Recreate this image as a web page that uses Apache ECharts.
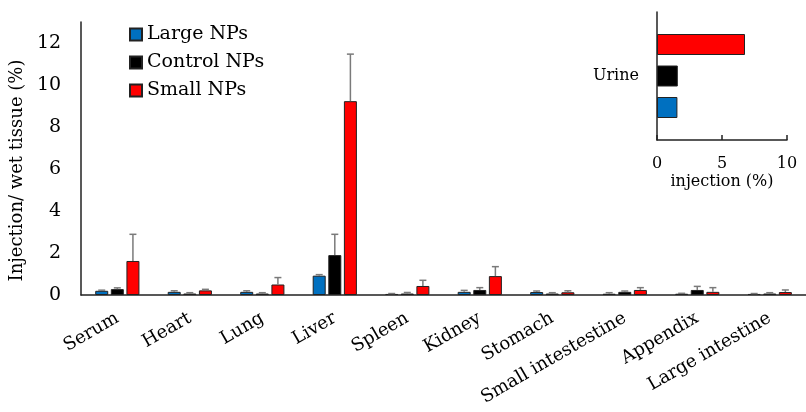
<!DOCTYPE html>
<html>
<head>
<meta charset="utf-8">
<script src="https://cdn.jsdelivr.net/npm/echarts@6/dist/echarts.min.js"></script>
<style>html,body{margin:0;padding:0;background:#fff}#c{width:806px;height:412px}</style>
</head>
<body>
<div id="c"></div>
<script>
var categories = ['Serum','Heart','Lung','Liver','Spleen','Kidney','Stomach','Small intestestine','Appendix','Large intestine'];
var seriesNames = ['Large NPs','Control NPs','Small NPs'];
var largeNPs   = [0.20, 0.15, 0.15, 0.92, 0.05, 0.15, 0.14, 0.06, 0.06, 0.05];
var controlNPs = [0.28, 0.07, 0.07, 1.90, 0.07, 0.24, 0.07, 0.15, 0.24, 0.07];
var smallNPs   = [1.62, 0.22, 0.50, 9.23, 0.43, 0.90, 0.13, 0.24, 0.15, 0.14];
var largeErr   = [0.03, 0.05, 0.05, 0.05, 0.02, 0.07, 0.05, 0.05, 0.02, 0.02];
var controlErr = [0.06, 0.04, 0.04, 0.99, 0.05, 0.11, 0.04, 0.04, 0.17, 0.04];
var smallErr   = [1.27, 0.05, 0.33, 2.24, 0.27, 0.45, 0.07, 0.11, 0.20, 0.10];
var yTicks = [0, 2, 4, 6, 8, 10, 12];
var urineCategory = ['Urine'];
var urineLarge = [1.57];
var urineControl = [1.60];
var urineSmall = [6.77];
var insetTicks = [0, 5, 10];

var colors = ['#0070C0', '#000000', '#FF0000'];
var font = 'DejaVu Serif';
var BW = 13, GAP = 2.6;

function errSeries(i, vals, errs) {
  var data = vals.map(function (v, k) { return [k, v, errs[k]]; });
  return {
    type: 'custom', xAxisIndex: 0, yAxisIndex: 0, z: 5, silent: true,
    data: data,
    renderItem: function (params, api) {
      var k = api.value(0), v = api.value(1), e = api.value(2);
      var p0 = api.coord([k, v]);
      var p1 = api.coord([k, v + e]);
      var x = p0[0] + (i - 1) * (BW + GAP);
      var st = { stroke: '#7a7a7a', lineWidth: 1.5 };
      return { type: 'group', children: [
        { type: 'line', shape: { x1: x, y1: p0[1], x2: x, y2: p1[1] }, style: st },
        { type: 'line', shape: { x1: x - 3.5, y1: p1[1], x2: x + 3.5, y2: p1[1] }, style: st }
      ]};
    }
  };
}

var mainVals = [largeNPs, controlNPs, smallNPs];
var mainErrs = [largeErr, controlErr, smallErr];
var insetVals = [urineLarge, urineControl, urineSmall];

var series = [];
for (var i = 0; i < 3; i++) {
  series.push({
    name: seriesNames[i], type: 'bar', xAxisIndex: 0, yAxisIndex: 0,
    data: mainVals[i], barWidth: BW, barGap: '20%',
    itemStyle: { color: colors[i], borderColor: '#222', borderWidth: 1 }
  });
}
for (var i = 0; i < 3; i++) series.push(errSeries(i, mainVals[i], mainErrs[i]));
// inset: first series is drawn on top, so go from Small to Large
for (var i = 2; i >= 0; i--) {
  series.push({
    name: 'inset' + i, type: 'bar', xAxisIndex: 1, yAxisIndex: 1,
    data: insetVals[i], barWidth: 21, barGap: '50%',
    itemStyle: { color: colors[i], borderColor: '#222', borderWidth: 1 }
  });
}

var chart = echarts.init(document.getElementById('c'));
chart.setOption({
  animation: false,
  backgroundColor: '#fff',
  textStyle: { fontFamily: font, color: '#000' },
  legend: {
    data: seriesNames, orient: 'vertical', left: 129, top: 24, padding: 0,
    icon: 'rect', itemWidth: 12, itemHeight: 12, itemGap: 7,
    textStyle: { fontFamily: font, fontSize: 19, color: '#000', lineHeight: 21 }
  },
  grid: [
    { left: 78, top: 22, width: 740, bottom: 117 },
    { left: 657, top: 12, width: 130, height: 128 }
  ],
  xAxis: [
    { type: 'category', gridIndex: 0, data: categories,
      axisLine: { lineStyle: { color: '#222', width: 1.5 } },
      axisTick: { show: false },
      axisLabel: { rotate: 30, interval: 0, margin: 22, fontFamily: font, fontSize: 18, color: '#000' } },
    { type: 'value', gridIndex: 1, min: insetTicks[0], max: insetTicks[insetTicks.length - 1], interval: 5,
      splitLine: { show: false },
      axisLine: { show: true, lineStyle: { color: '#222', width: 1.5 } },
      axisTick: { show: true, inside: true, length: 5, lineStyle: { color: '#222', width: 1.5 } },
      axisLabel: { margin: 16, fontFamily: font, fontSize: 16, color: '#000' },
      name: 'injection (%)', nameLocation: 'middle', nameGap: 34,
      nameTextStyle: { fontFamily: font, fontSize: 16, color: '#000' } }
  ],
  yAxis: [
    { type: 'value', gridIndex: 0, min: yTicks[0], max: 13, interval: 2,
      splitLine: { show: false },
      axisLine: { show: true, lineStyle: { color: '#222', width: 1.5 } },
      axisTick: { show: false },
      axisLabel: { margin: 20, showMaxLabel: false, fontFamily: font, fontSize: 19, color: '#000' },
      name: 'Injection/ wet tissue (%)', nameLocation: 'middle', nameGap: 48,
      nameTextStyle: { fontFamily: font, fontSize: 18, color: '#000', padding: [0, 24, 0, 0] } },
    { type: 'category', gridIndex: 1, data: urineCategory,
      axisLine: { lineStyle: { color: '#222', width: 1.5 } },
      axisTick: { show: false },
      axisLabel: { margin: 18, fontFamily: font, fontSize: 16, color: '#000' } }
  ],
  series: series
});
</script>
</body>
</html>
